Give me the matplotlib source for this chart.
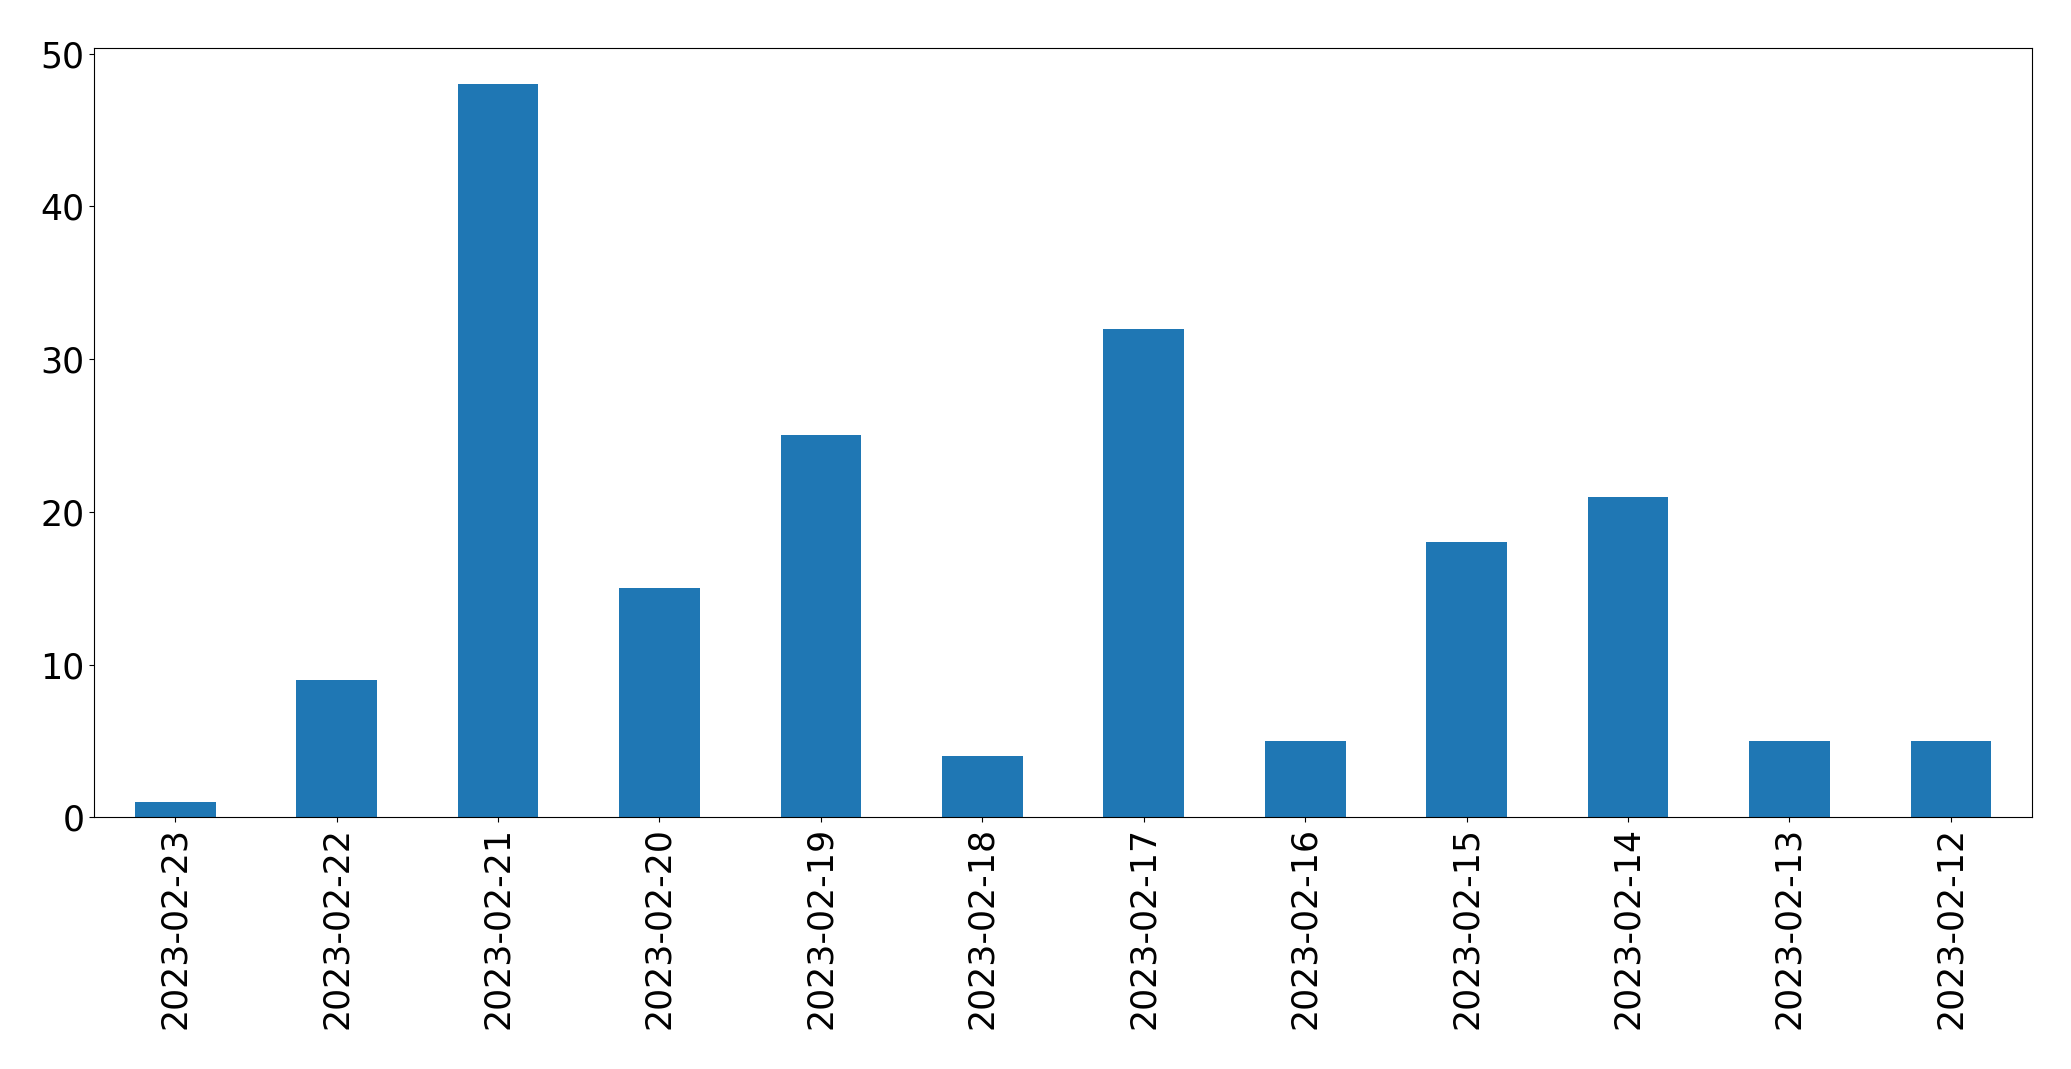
import matplotlib
matplotlib.use("Agg")
import matplotlib.pyplot as plt
import pandas as pd

dates = [
    "2023-02-23", "2023-02-22", "2023-02-21", "2023-02-20",
    "2023-02-19", "2023-02-18", "2023-02-17", "2023-02-16",
    "2023-02-15", "2023-02-14", "2023-02-13", "2023-02-12",
]
counts = [1, 9, 48, 15, 25, 4, 32, 5, 18, 21, 5, 5]

series = pd.Series(counts, index=dates)

fig, ax = plt.subplots(figsize=(20.71, 10.69), dpi=100)
fig.subplots_adjust(left=0.0456, right=0.981, top=0.9555, bottom=0.2355)
series.plot(kind="bar", ax=ax, color="#1f77b4", width=0.5)
ax.tick_params(axis="both", labelsize=25)
plt.setp(ax.get_xticklabels(), rotation=90)

fig.savefig("out.png", dpi=100)
